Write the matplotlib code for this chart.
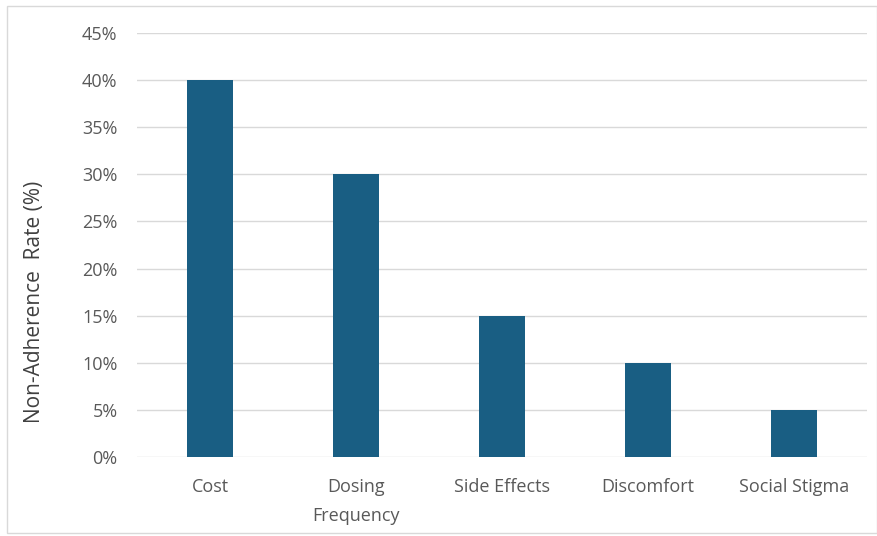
import matplotlib
matplotlib.use("Agg")
import matplotlib.pyplot as plt
from matplotlib.patches import Rectangle
from matplotlib.ticker import FuncFormatter, MultipleLocator

categories = ["Cost", "Dosing\nFrequency", "Side Effects", "Discomfort", "Social Stigma"]
rates = [0.40, 0.30, 0.15, 0.10, 0.05]

plt.rcParams["font.family"] = ["Open Sans", "DejaVu Sans"]

fig = plt.figure(figsize=(8.78, 5.36), dpi=100)
fig.patches.append(Rectangle((7 / 878, 3 / 536), 870 / 878, 527 / 536,
                             transform=fig.transFigure, fill=False,
                             edgecolor="#D9D9D9", linewidth=1.0))

ax = fig.add_axes([137 / 878, 1 - 457 / 536, 730 / 878, 424 / 536])
x = range(len(categories))
ax.bar(x, rates, width=0.315, color="#195E83", zorder=3)

ax.set_xlim(-0.5, len(categories) - 0.5)
ax.set_ylim(0, 0.45)
ax.yaxis.set_major_locator(MultipleLocator(0.05))
ax.yaxis.set_major_formatter(FuncFormatter(lambda v, p: f"{v * 100:.0f}%"))
ax.grid(axis="y", color="#D9D9D9", linewidth=1.0, zorder=0)
for s in ax.spines.values():
    s.set_visible(False)
ax.tick_params(axis="both", length=0, labelsize=13, colors="#595959")
ax.tick_params(axis="y", pad=14)
ax.tick_params(axis="x", pad=15)
ax.set_xticks(list(x))
ax.set_xticklabels(categories, linespacing=1.8)

fig.text(35 / 878, 1 - 302 / 536, "Non-Adherence  Rate (%)", rotation=90,
         ha="center", va="center", fontsize=15, color="#404040")

fig.savefig("out.png", dpi=100)
